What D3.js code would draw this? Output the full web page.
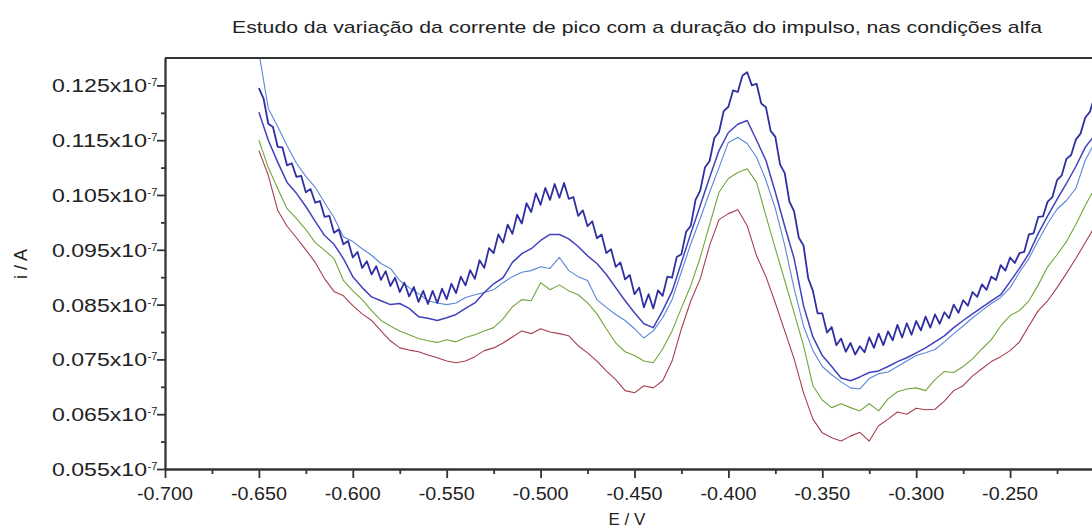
<!DOCTYPE html>
<html>
<head>
<meta charset="utf-8">
<script src="https://cdn.jsdelivr.net/npm/d3@7"></script>
<style>
  body { margin: 0; background: #fff; }
  svg { display: block; }
  text { font-family: "Liberation Sans", Arial, sans-serif; fill: #222; }
</style>
</head>
<body>
<svg id="chart" width="1092" height="532"></svg>
<script>
// potentials (V), 5 mV steps
var potential = [
  -0.650,-0.645,-0.640,-0.635,-0.630,-0.625,-0.620,-0.615,-0.610,-0.605,
  -0.600,-0.595,-0.590,-0.585,-0.580,-0.575,-0.570,-0.565,-0.560,-0.555,
  -0.550,-0.545,-0.540,-0.535,-0.530,-0.525,-0.520,-0.515,-0.510,-0.505,
  -0.500,-0.495,-0.490,-0.485,-0.480,-0.475,-0.470,-0.465,-0.460,-0.455,
  -0.450,-0.445,-0.440,-0.435,-0.430,-0.425,-0.420,-0.415,-0.410,-0.405,
  -0.400,-0.395,-0.390,-0.385,-0.380,-0.375,-0.370,-0.365,-0.360,-0.355,
  -0.350,-0.345,-0.340,-0.335,-0.330,-0.325,-0.320,-0.315,-0.310,-0.305,
  -0.300,-0.295,-0.290,-0.285,-0.280,-0.275,-0.270,-0.265,-0.260,-0.255,
  -0.250,-0.245,-0.240,-0.235,-0.230,-0.225,-0.220,-0.215,-0.210,-0.205
];

// the noisy top curve is sampled twice as densely
var potentialFine = [
  -0.6500,-0.6475,-0.6450,-0.6425,-0.6400,-0.6375,-0.6350,-0.6325,-0.6300,-0.6275,
  -0.6250,-0.6225,-0.6200,-0.6175,-0.6150,-0.6125,-0.6100,-0.6075,-0.6050,-0.6025,
  -0.6000,-0.5975,-0.5950,-0.5925,-0.5900,-0.5875,-0.5850,-0.5825,-0.5800,-0.5775,
  -0.5750,-0.5725,-0.5700,-0.5675,-0.5650,-0.5625,-0.5600,-0.5575,-0.5550,-0.5525,
  -0.5500,-0.5475,-0.5450,-0.5425,-0.5400,-0.5375,-0.5350,-0.5325,-0.5300,-0.5275,
  -0.5250,-0.5225,-0.5200,-0.5175,-0.5150,-0.5125,-0.5100,-0.5075,-0.5050,-0.5025,
  -0.5000,-0.4975,-0.4950,-0.4925,-0.4900,-0.4875,-0.4850,-0.4825,-0.4800,-0.4775,
  -0.4750,-0.4725,-0.4700,-0.4675,-0.4650,-0.4625,-0.4600,-0.4575,-0.4550,-0.4525,
  -0.4500,-0.4475,-0.4450,-0.4425,-0.4400,-0.4375,-0.4350,-0.4325,-0.4300,-0.4275,
  -0.4250,-0.4225,-0.4200,-0.4175,-0.4150,-0.4125,-0.4100,-0.4075,-0.4050,-0.4025,
  -0.4000,-0.3975,-0.3950,-0.3925,-0.3900,-0.3875,-0.3850,-0.3825,-0.3800,-0.3775,
  -0.3750,-0.3725,-0.3700,-0.3675,-0.3650,-0.3625,-0.3600,-0.3575,-0.3550,-0.3525,
  -0.3500,-0.3475,-0.3450,-0.3425,-0.3400,-0.3375,-0.3350,-0.3325,-0.3300,-0.3275,
  -0.3250,-0.3225,-0.3200,-0.3175,-0.3150,-0.3125,-0.3100,-0.3075,-0.3050,-0.3025,
  -0.3000,-0.2975,-0.2950,-0.2925,-0.2900,-0.2875,-0.2850,-0.2825,-0.2800,-0.2775,
  -0.2750,-0.2725,-0.2700,-0.2675,-0.2650,-0.2625,-0.2600,-0.2575,-0.2550,-0.2525,
  -0.2500,-0.2475,-0.2450,-0.2425,-0.2400,-0.2375,-0.2350,-0.2325,-0.2300,-0.2275,
  -0.2250,-0.2225,-0.2200,-0.2175,-0.2150,-0.2125,-0.2100,-0.2075,-0.2050
];

// currents in units of 10^-7 A
var currentDark = [
  0.1245,0.1226,0.1180,0.1174,0.1138,0.1137,0.1104,0.1108,0.1083,0.1085,
  0.1055,0.1061,0.1036,0.1039,0.1010,0.1012,0.0981,0.0987,0.0960,0.0966,
  0.0936,0.0946,0.0917,0.0929,0.0905,0.0920,0.0895,0.0911,0.0884,0.0899,
  0.0873,0.0890,0.0865,0.0882,0.0855,0.0875,0.0851,0.0875,0.0853,0.0879,
  0.0860,0.0888,0.0871,0.0901,0.0885,0.0913,0.0897,0.0931,0.0917,0.0953,
  0.0944,0.0978,0.0963,0.0996,0.0979,0.1014,0.0998,0.1035,0.1019,0.1053,
  0.1032,0.1063,0.1041,0.1070,0.1045,0.1072,0.1043,0.1046,0.1012,0.1022,
  0.0993,0.1002,0.0971,0.0978,0.0944,0.0951,0.0919,0.0927,0.0896,0.0904,
  0.0869,0.0881,0.0845,0.0869,0.0843,0.0876,0.0866,0.0901,0.0899,0.0937,
  0.0942,0.0983,0.0994,0.1041,0.1058,0.1100,0.1112,0.1154,0.1165,0.1203,
  0.1211,0.1241,0.1238,0.1268,0.1274,0.1250,0.1253,0.1217,0.1210,0.1167,
  0.1156,0.1106,0.1090,0.1038,0.1020,0.0972,0.0958,0.0898,0.0875,0.0834,
  0.0834,0.0799,0.0809,0.0776,0.0788,0.0764,0.0780,0.0759,0.0774,0.0763,
  0.0790,0.0771,0.0797,0.0776,0.0801,0.0785,0.0813,0.0790,0.0816,0.0795,
  0.0820,0.0803,0.0828,0.0808,0.0832,0.0815,0.0836,0.0825,0.0850,0.0835,
  0.0858,0.0848,0.0873,0.0864,0.0887,0.0877,0.0901,0.0895,0.0922,0.0912,
  0.0936,0.0926,0.0944,0.0946,0.0978,0.0980,0.1010,0.1011,0.1038,0.1046,
  0.1077,0.1086,0.1116,0.1123,0.1151,0.1162,0.1191,0.1202,0.1230
];

var currentBlue = [
  0.1201,0.1150,0.1110,0.1073,0.1053,0.1029,0.1002,0.0976,0.0960,0.0934,
  0.0901,0.0881,0.0864,0.0857,0.0850,0.0852,0.0843,0.0828,0.0825,0.0821,
  0.0826,0.0832,0.0843,0.0853,0.0872,0.0888,0.0899,0.0927,0.0943,0.0952,
  0.0967,0.0978,0.0978,0.0970,0.0956,0.0939,0.0925,0.0905,0.0881,0.0857,
  0.0835,0.0815,0.0808,0.0839,0.0874,0.0927,0.0980,0.1031,0.1082,0.1131,
  0.1164,0.1179,0.1186,0.1150,0.1113,0.1055,0.0993,0.0934,0.0848,0.0791,
  0.0757,0.0737,0.0716,0.0711,0.0718,0.0726,0.0729,0.0737,0.0746,0.0753,
  0.0762,0.0771,0.0782,0.0793,0.0808,0.0821,0.0833,0.0845,0.0857,0.0868,
  0.0892,0.0916,0.0943,0.0980,0.1012,0.1042,0.1071,0.1102,0.1137,0.1159
];

var currentLight = [
  0.1310,0.1208,0.1175,0.1140,0.1108,0.1084,0.1064,0.1036,0.1009,0.0974,
  0.0965,0.0952,0.0940,0.0925,0.0916,0.0894,0.0881,0.0870,0.0857,0.0853,
  0.0850,0.0853,0.0863,0.0868,0.0872,0.0877,0.0890,0.0901,0.0909,0.0912,
  0.0919,0.0916,0.0936,0.0912,0.0901,0.0894,0.0859,0.0845,0.0832,0.0821,
  0.0806,0.0789,0.0802,0.0826,0.0859,0.0910,0.0961,0.1007,0.1055,0.1100,
  0.1146,0.1155,0.1144,0.1119,0.1077,0.1025,0.0958,0.0879,0.0811,0.0766,
  0.0737,0.0722,0.0709,0.0698,0.0696,0.0715,0.0724,0.0727,0.0737,0.0747,
  0.0757,0.0762,0.0768,0.0782,0.0797,0.0811,0.0826,0.0839,0.0852,0.0863,
  0.0881,0.0909,0.0934,0.0967,0.0998,0.1024,0.1040,0.1062,0.1113,0.1146
];

var currentGreen = [
  0.1150,0.1100,0.1062,0.1025,0.1007,0.0987,0.0963,0.0949,0.0934,0.0894,
  0.0875,0.0859,0.0839,0.0821,0.0811,0.0802,0.0795,0.0788,0.0784,0.0781,
  0.0786,0.0782,0.0790,0.0795,0.0802,0.0808,0.0824,0.0846,0.0859,0.0857,
  0.0890,0.0877,0.0886,0.0875,0.0868,0.0853,0.0833,0.0806,0.0780,0.0764,
  0.0757,0.0747,0.0744,0.0769,0.0802,0.0844,0.0885,0.0936,0.0996,0.1055,
  0.1080,0.1091,0.1098,0.1073,0.1012,0.0952,0.0894,0.0835,0.0775,0.0702,
  0.0676,0.0662,0.0669,0.0662,0.0656,0.0669,0.0656,0.0678,0.0691,0.0696,
  0.0698,0.0693,0.0713,0.0728,0.0726,0.0737,0.0751,0.0769,0.0786,0.0811,
  0.0830,0.0839,0.0857,0.0886,0.0919,0.0941,0.0965,0.0996,0.1031,0.1062
];

var currentRed = [
  0.1131,0.1086,0.1022,0.0993,0.0972,0.0950,0.0927,0.0897,0.0874,0.0866,
  0.0848,0.0833,0.0821,0.0802,0.0784,0.0771,0.0767,0.0764,0.0758,0.0753,
  0.0747,0.0744,0.0747,0.0755,0.0766,0.0771,0.0780,0.0791,0.0802,0.0797,
  0.0806,0.0800,0.0797,0.0793,0.0775,0.0762,0.0747,0.0729,0.0713,0.0693,
  0.0689,0.0702,0.0698,0.0711,0.0747,0.0806,0.0857,0.0897,0.0958,0.1005,
  0.1016,0.1023,0.0994,0.0939,0.0901,0.0853,0.0802,0.0751,0.0689,0.0641,
  0.0616,0.0607,0.0601,0.0610,0.0617,0.0601,0.0629,0.0641,0.0654,0.0650,
  0.0661,0.0658,0.0659,0.0674,0.0693,0.0702,0.0720,0.0733,0.0746,0.0755,
  0.0766,0.0782,0.0811,0.0839,0.0857,0.0881,0.0907,0.0934,0.0963,0.0992
];

var yTicks = [0.055, 0.065, 0.075, 0.085, 0.095, 0.105, 0.115, 0.125];
var yMinor = [0.060, 0.070, 0.080, 0.090, 0.100, 0.110, 0.120];
var xTicks = [-0.700, -0.650, -0.600, -0.550, -0.500, -0.450, -0.400, -0.350, -0.300, -0.250];
var xMinor = [-0.675, -0.625, -0.575, -0.525, -0.475, -0.425, -0.375, -0.325, -0.275, -0.225];

var title = "Estudo da variação da corrente de pico com a duração do impulso, nas condições alfa";

var svg = d3.select('#chart');

var x = d3.scaleLinear().domain([-0.7, -0.2]).range([165, 1104]);
var y = d3.scaleLinear().domain([0.055, 0.130]).range([469, 58]);

svg.append('defs').append('clipPath').attr('id', 'plot')
  .append('rect')
  .attr('x', x(-0.7)).attr('y', y(0.130))
  .attr('width', x(-0.2) - x(-0.7)).attr('height', y(0.055) - y(0.130));

// curves, drawn bottom to top
var curves = [
  { e: potential,     v: currentRed,   color: '#a63e4f', w: 1.1 },
  { e: potential,     v: currentGreen, color: '#72a53c', w: 1.1 },
  { e: potential,     v: currentLight, color: '#5a86d8', w: 1.1 },
  { e: potential,     v: currentBlue,  color: '#4141bd', w: 1.5 },
  { e: potentialFine, v: currentDark,  color: '#2f2fa2', w: 1.8 }
];

var line = d3.line()
  .x(function (d) { return x(d[0]); })
  .y(function (d) { return y(d[1]); });

var plot = svg.append('g').attr('clip-path', 'url(#plot)');
curves.forEach(function (c) {
  plot.append('path')
    .datum(d3.zip(c.e, c.v))
    .attr('d', line)
    .attr('fill', 'none')
    .attr('stroke', c.color)
    .attr('stroke-width', c.w)
    .attr('stroke-linejoin', 'round');
});

// axes
function styleAxis(g) {
  g.selectAll('path, line').attr('stroke', '#333').attr('stroke-width', 1.8);
}

svg.append('g')
  .attr('transform', 'translate(' + x(-0.7) + ',0)')
  .call(d3.axisLeft(y).tickValues(yTicks).tickSize(8).tickSizeOuter(0).tickFormat(''))
  .call(styleAxis);
svg.append('g')
  .attr('transform', 'translate(' + x(-0.7) + ',0)')
  .call(d3.axisLeft(y).tickValues(yMinor).tickSize(4).tickSizeOuter(0).tickFormat(''))
  .call(styleAxis);

svg.append('g')
  .attr('transform', 'translate(0,' + y(0.055) + ')')
  .call(d3.axisBottom(x).tickValues(xTicks).tickSize(9).tickSizeOuter(0).tickFormat(''))
  .call(styleAxis);
svg.append('g')
  .attr('transform', 'translate(0,' + y(0.055) + ')')
  .call(d3.axisBottom(x).tickValues(xMinor).tickSize(5).tickSizeOuter(0).tickFormat(''))
  .call(styleAxis);

// top frame line
svg.append('line')
  .attr('x1', x(-0.7)).attr('x2', x(-0.2))
  .attr('y1', y(0.130)).attr('y2', y(0.130))
  .attr('stroke', '#333').attr('stroke-width', 1.8);

// y tick labels: 0.125x10^-7
var yLab = svg.append('g');
yTicks.forEach(function (t) {
  yLab.append('text')
    .attr('x', 147).attr('y', y(t) + 7)
    .attr('text-anchor', 'end')
    .attr('font-size', 18)
    .attr('textLength', 95).attr('lengthAdjust', 'spacingAndGlyphs')
    .text(t.toFixed(3) + 'x10');
  yLab.append('text')
    .attr('x', 147.5).attr('y', y(t) + 1)
    .attr('font-size', 11)
    .text('-7');
});

// x tick labels
xTicks.forEach(function (t) {
  svg.append('text')
    .attr('x', x(t)).attr('y', 500)
    .attr('text-anchor', 'middle')
    .attr('font-size', 18)
    .attr('textLength', 56).attr('lengthAdjust', 'spacingAndGlyphs')
    .text(t.toFixed(3));
});

// titles
svg.append('text')
  .attr('x', 637).attr('y', 33)
  .attr('text-anchor', 'middle')
  .attr('font-size', 17)
  .attr('textLength', 810).attr('lengthAdjust', 'spacingAndGlyphs')
  .text(title);

svg.append('text')
  .attr('x', 627).attr('y', 525)
  .attr('text-anchor', 'middle')
  .attr('font-size', 17)
  .text('E / V');

svg.append('text')
  .attr('transform', 'translate(27,264) rotate(-90)')
  .attr('text-anchor', 'middle')
  .attr('font-size', 18)
  .text('i / A');
</script>
</body>
</html>
